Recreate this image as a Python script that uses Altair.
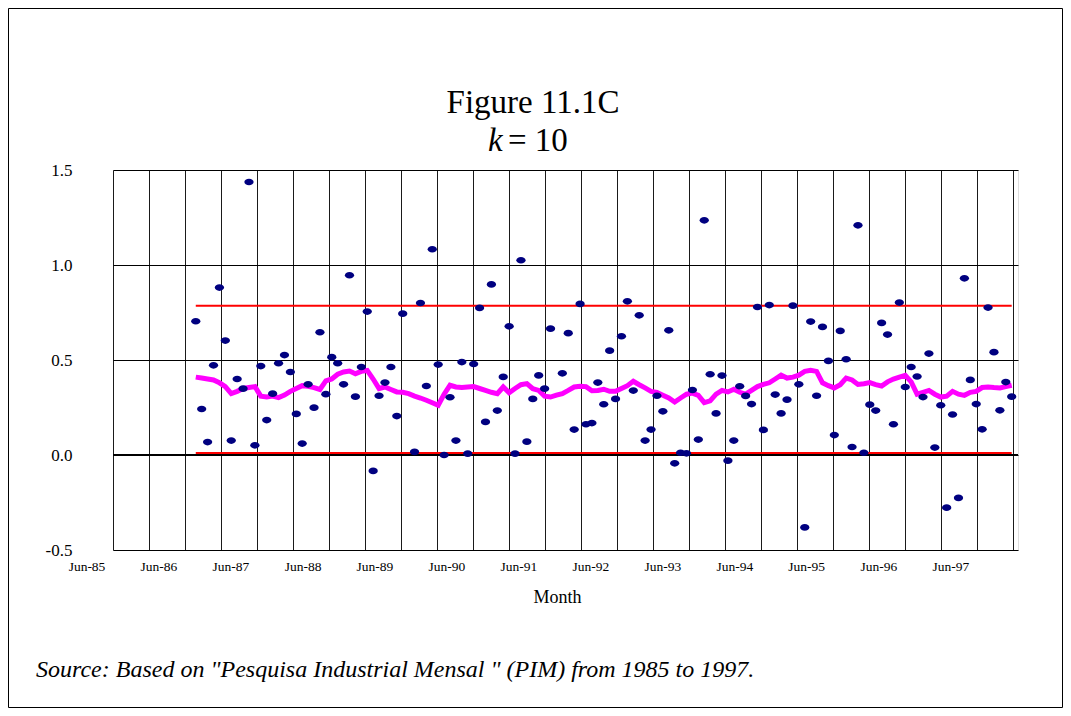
import json
import altair as alt
import pandas as pd

# ---------------- data ----------------
first_obs = "1986-07-26"   # first observation (series spaced 30 days apart)
n_obs = 139

values = [
    0.704, 0.242, 0.068, 0.472, 0.881, 0.602, 0.076, 0.400, 0.349, 1.437,
    0.051, 0.468, 0.184, 0.323, 0.483, 0.526, 0.437, 0.216, 0.060, 0.372,
    0.249, 0.646, 0.320, 0.515, 0.483, 0.372, 0.946, 0.307, 0.463, 0.755,
    -0.084, 0.312, 0.381, 0.463, 0.205, 0.744, None, 0.016, 0.800, 0.363,
    1.083, 0.476, 0.000, 0.304, 0.076, 0.489, 0.007, 0.479, 0.774, 0.174,
    0.898, 0.234, 0.411, 0.677, 0.007, 1.025, 0.070, 0.295, 0.419, 0.349,
    0.665, None, 0.430, 0.641, 0.134, 0.795, 0.162, 0.168, 0.381, 0.267,
    0.549, 0.295, 0.625, 0.809, 0.339, 0.735, 0.076, 0.134, 0.312, 0.230,
    0.656, -0.044, 0.012, 0.009, 0.342, 0.081, 1.235, 0.425, 0.219, 0.418,
    -0.030, 0.076, 0.362, 0.311, 0.268, 0.779, 0.132, 0.789, 0.318, 0.219,
    0.291, 0.786, 0.372, -0.381, 0.702, 0.312, 0.674, 0.495, 0.105, 0.653,
    0.504, 0.042, 1.209, 0.012, 0.265, 0.234, 0.695, 0.634, 0.162, 0.802,
    0.358, 0.463, 0.413, 0.305, 0.534, 0.039, 0.262, -0.277, 0.213, -0.226,
    0.930, 0.395, 0.268, 0.135, 0.776, 0.541, 0.235, 0.384, 0.307,
]

moving_avg = [
    0.410, 0.405, 0.400, 0.395, 0.380, 0.360, 0.323, 0.335, 0.350, 0.355,
    0.360, 0.310, 0.305, 0.310, 0.302, 0.315, 0.335, 0.350, 0.365, 0.362,
    0.355, 0.345, 0.390, 0.400, 0.425, 0.437, 0.442, 0.428, 0.440, 0.445,
    0.400, 0.350, 0.358, 0.345, 0.332, 0.330, 0.323, 0.310, 0.300, 0.288,
    0.275, 0.262, 0.320, 0.367, 0.358, 0.355, 0.358, 0.360, 0.350, 0.340,
    0.330, 0.323, 0.358, 0.328, 0.350, 0.370, 0.376, 0.349, 0.340, 0.310,
    0.305, 0.315, 0.323, 0.340, 0.358, 0.362, 0.360, 0.338, 0.340, 0.346,
    0.335, 0.335, 0.350, 0.365, 0.388, 0.370, 0.353, 0.335, 0.330, 0.315,
    0.300, 0.279, 0.300, 0.320, 0.326, 0.314, 0.276, 0.285, 0.320, 0.340,
    0.332, 0.346, 0.330, 0.320, 0.340, 0.360, 0.372, 0.380, 0.400, 0.420,
    0.405, 0.410, 0.420, 0.440, 0.446, 0.440, 0.380, 0.365, 0.353, 0.370,
    0.405, 0.395, 0.371, 0.375, 0.381, 0.370, 0.363, 0.385, 0.400, 0.410,
    0.419, 0.385, 0.320, 0.330, 0.340, 0.320, 0.305, 0.310, 0.335, 0.320,
    0.314, 0.330, 0.335, 0.355, 0.358, 0.355, 0.353, 0.360, 0.367,
]

upper_limit = 0.786
lower_limit = 0.010

x_tick_dates = ["1985-06-01", "1986-06-01", "1987-06-01", "1988-06-01",
                "1989-06-01", "1990-06-01", "1991-06-01", "1992-06-01",
                "1993-06-01", "1994-06-01", "1995-06-01", "1996-06-01",
                "1997-06-01"]
x_tick_labels = ["Jun-85", "Jun-86", "Jun-87", "Jun-88", "Jun-89", "Jun-90",
                 "Jun-91", "Jun-92", "Jun-93", "Jun-94", "Jun-95", "Jun-96",
                 "Jun-97"]
y_ticks = [-0.5, 0.0, 0.5, 1.0, 1.5]
y_tick_labels = ["-0.5", "0.0", "0.5", "1.0", "1.5"]

title_line1 = "Figure 11.1C"
title_k = "k"
title_rest = "= 10"
x_title = "Month"
source_text = 'Source: Based on "Pesquisa Industrial Mensal " (PIM) from 1985 to 1997.'

# ---------------- tables ----------------
dates = pd.date_range(first_obs, periods=n_obs, freq="30D").strftime("%Y-%m-%d")
df = pd.DataFrame({
    "date": dates,
    "value": values,
    "ma": moving_avg,
    "ucl": [upper_limit] * n_obs,
    "lcl": [lower_limit] * n_obs,
})
df_lab = pd.DataFrame({"date": x_tick_dates, "label": x_tick_labels})

FONT = "Liberation Serif"
W, H = 905, 380

grid_dates = []
for yr in range(1985, 1998):
    grid_dates.append(alt.DateTime(year=yr, month=6, date=1, utc=True))
    grid_dates.append(alt.DateTime(year=yr, month=12, date=1, utc=True))

y_label_expr = (json.dumps(y_tick_labels)
                + "[round((datum.value + 0.5) * 2)]")

x_scale = alt.Scale(type="utc",
                    domain=[alt.DateTime(year=1985, month=6, date=1, utc=True),
                            alt.DateTime(year=1997, month=12, date=27, utc=True)])
y_scale = alt.Scale(domain=[-0.5, 1.5], nice=False, zero=False)

x_axis = alt.Axis(values=grid_dates, labels=False, grid=True,
                  gridColor="#1a1a1a", gridWidth=1, ticks=False, domain=False,
                  title=x_title, titleFont=FONT, titleFontSize=18,
                  titleFontWeight="normal", titleColor="#000000",
                  titleX=444, titleY=52, titleBaseline="alphabetic",
                  titleAnchor="start", titleAlign="center")
y_axis = alt.Axis(values=y_ticks, labelExpr=y_label_expr, grid=True,
                  gridColor="#000000", gridWidth=1, ticks=False, domain=False,
                  labelFont=FONT, labelFontSize=17, labelColor="#000000",
                  labelPadding=41, labelOverlap=False, labelFlush=False,
                  title=None)

X = alt.X("date:T", scale=x_scale, axis=x_axis)


def Y(field):
    return alt.Y(field, type="quantitative", scale=y_scale, axis=y_axis)


base = alt.Chart(df)

zero_line = base.mark_rule(color="#000000", strokeWidth=2).encode(
    y=alt.datum(0.0, type="quantitative"))

ucl_line = base.mark_line(color="#FF0000", strokeWidth=2).encode(x=X, y=Y("ucl"))
lcl_line = base.mark_line(color="#FF0000", strokeWidth=2).encode(x=X, y=Y("lcl"))
ma_line = base.mark_line(color="#FF00FF", strokeWidth=5).encode(x=X, y=Y("ma"))

ellipse = "M-1,0A1,0.72,0,1,0,1,0A1,0.72,0,1,0,-1,0Z"
dots = base.transform_filter("isValid(datum.value)").mark_point(
    shape=ellipse, filled=True, size=86, color="#000080", opacity=1
).encode(x=X, y=Y("value"))

x_labels = alt.Chart(df_lab).mark_text(
    font=FONT, fontSize=13.5, color="#000000", align="center",
    baseline="alphabetic", dx=-26
).encode(x=X, y=alt.value(H + 21), text="label:N")

one = alt.Data(values=[{"k": 1}])
frame = alt.Chart(one).mark_rect(fill="transparent", stroke="#000000",
                                 strokeWidth=1).encode(
    x=alt.value(-104.5), x2=alt.value(949.5),
    y=alt.value(-161.5), y2=alt.value(537.5))

t1 = alt.Chart(one).mark_text(text=title_line1, font=FONT, fontSize=33,
                              align="center", baseline="alphabetic",
                              color="#000000").encode(
    x=alt.value(420), y=alt.value(-57))
tk = alt.Chart(one).mark_text(text=title_k, font=FONT, fontSize=33,
                              fontStyle="italic", align="left",
                              baseline="alphabetic", color="#000000").encode(
    x=alt.value(375), y=alt.value(-19))
tr = alt.Chart(one).mark_text(text=title_rest, font=FONT, fontSize=33,
                              align="left", baseline="alphabetic",
                              color="#000000").encode(
    x=alt.value(395), y=alt.value(-19))
src = alt.Chart(one).mark_text(text=source_text, font=FONT, fontSize=24,
                               fontStyle="italic", align="left",
                               baseline="alphabetic", color="#000000").encode(
    x=alt.value(-77), y=alt.value(507))

chart = alt.layer(
    frame, zero_line, ucl_line, lcl_line, ma_line, dots, x_labels,
    t1, tk, tr, src
).properties(
    width=W, height=H,
    padding={"left": 105, "top": 162, "right": 45, "bottom": 158},
    autosize=alt.AutoSizeParams(type="none"),
).configure_view(stroke="#000000", strokeWidth=2).configure(background="#FFFFFF")

chart.save("out.html", embed_options={"renderer": "svg", "actions": False})
